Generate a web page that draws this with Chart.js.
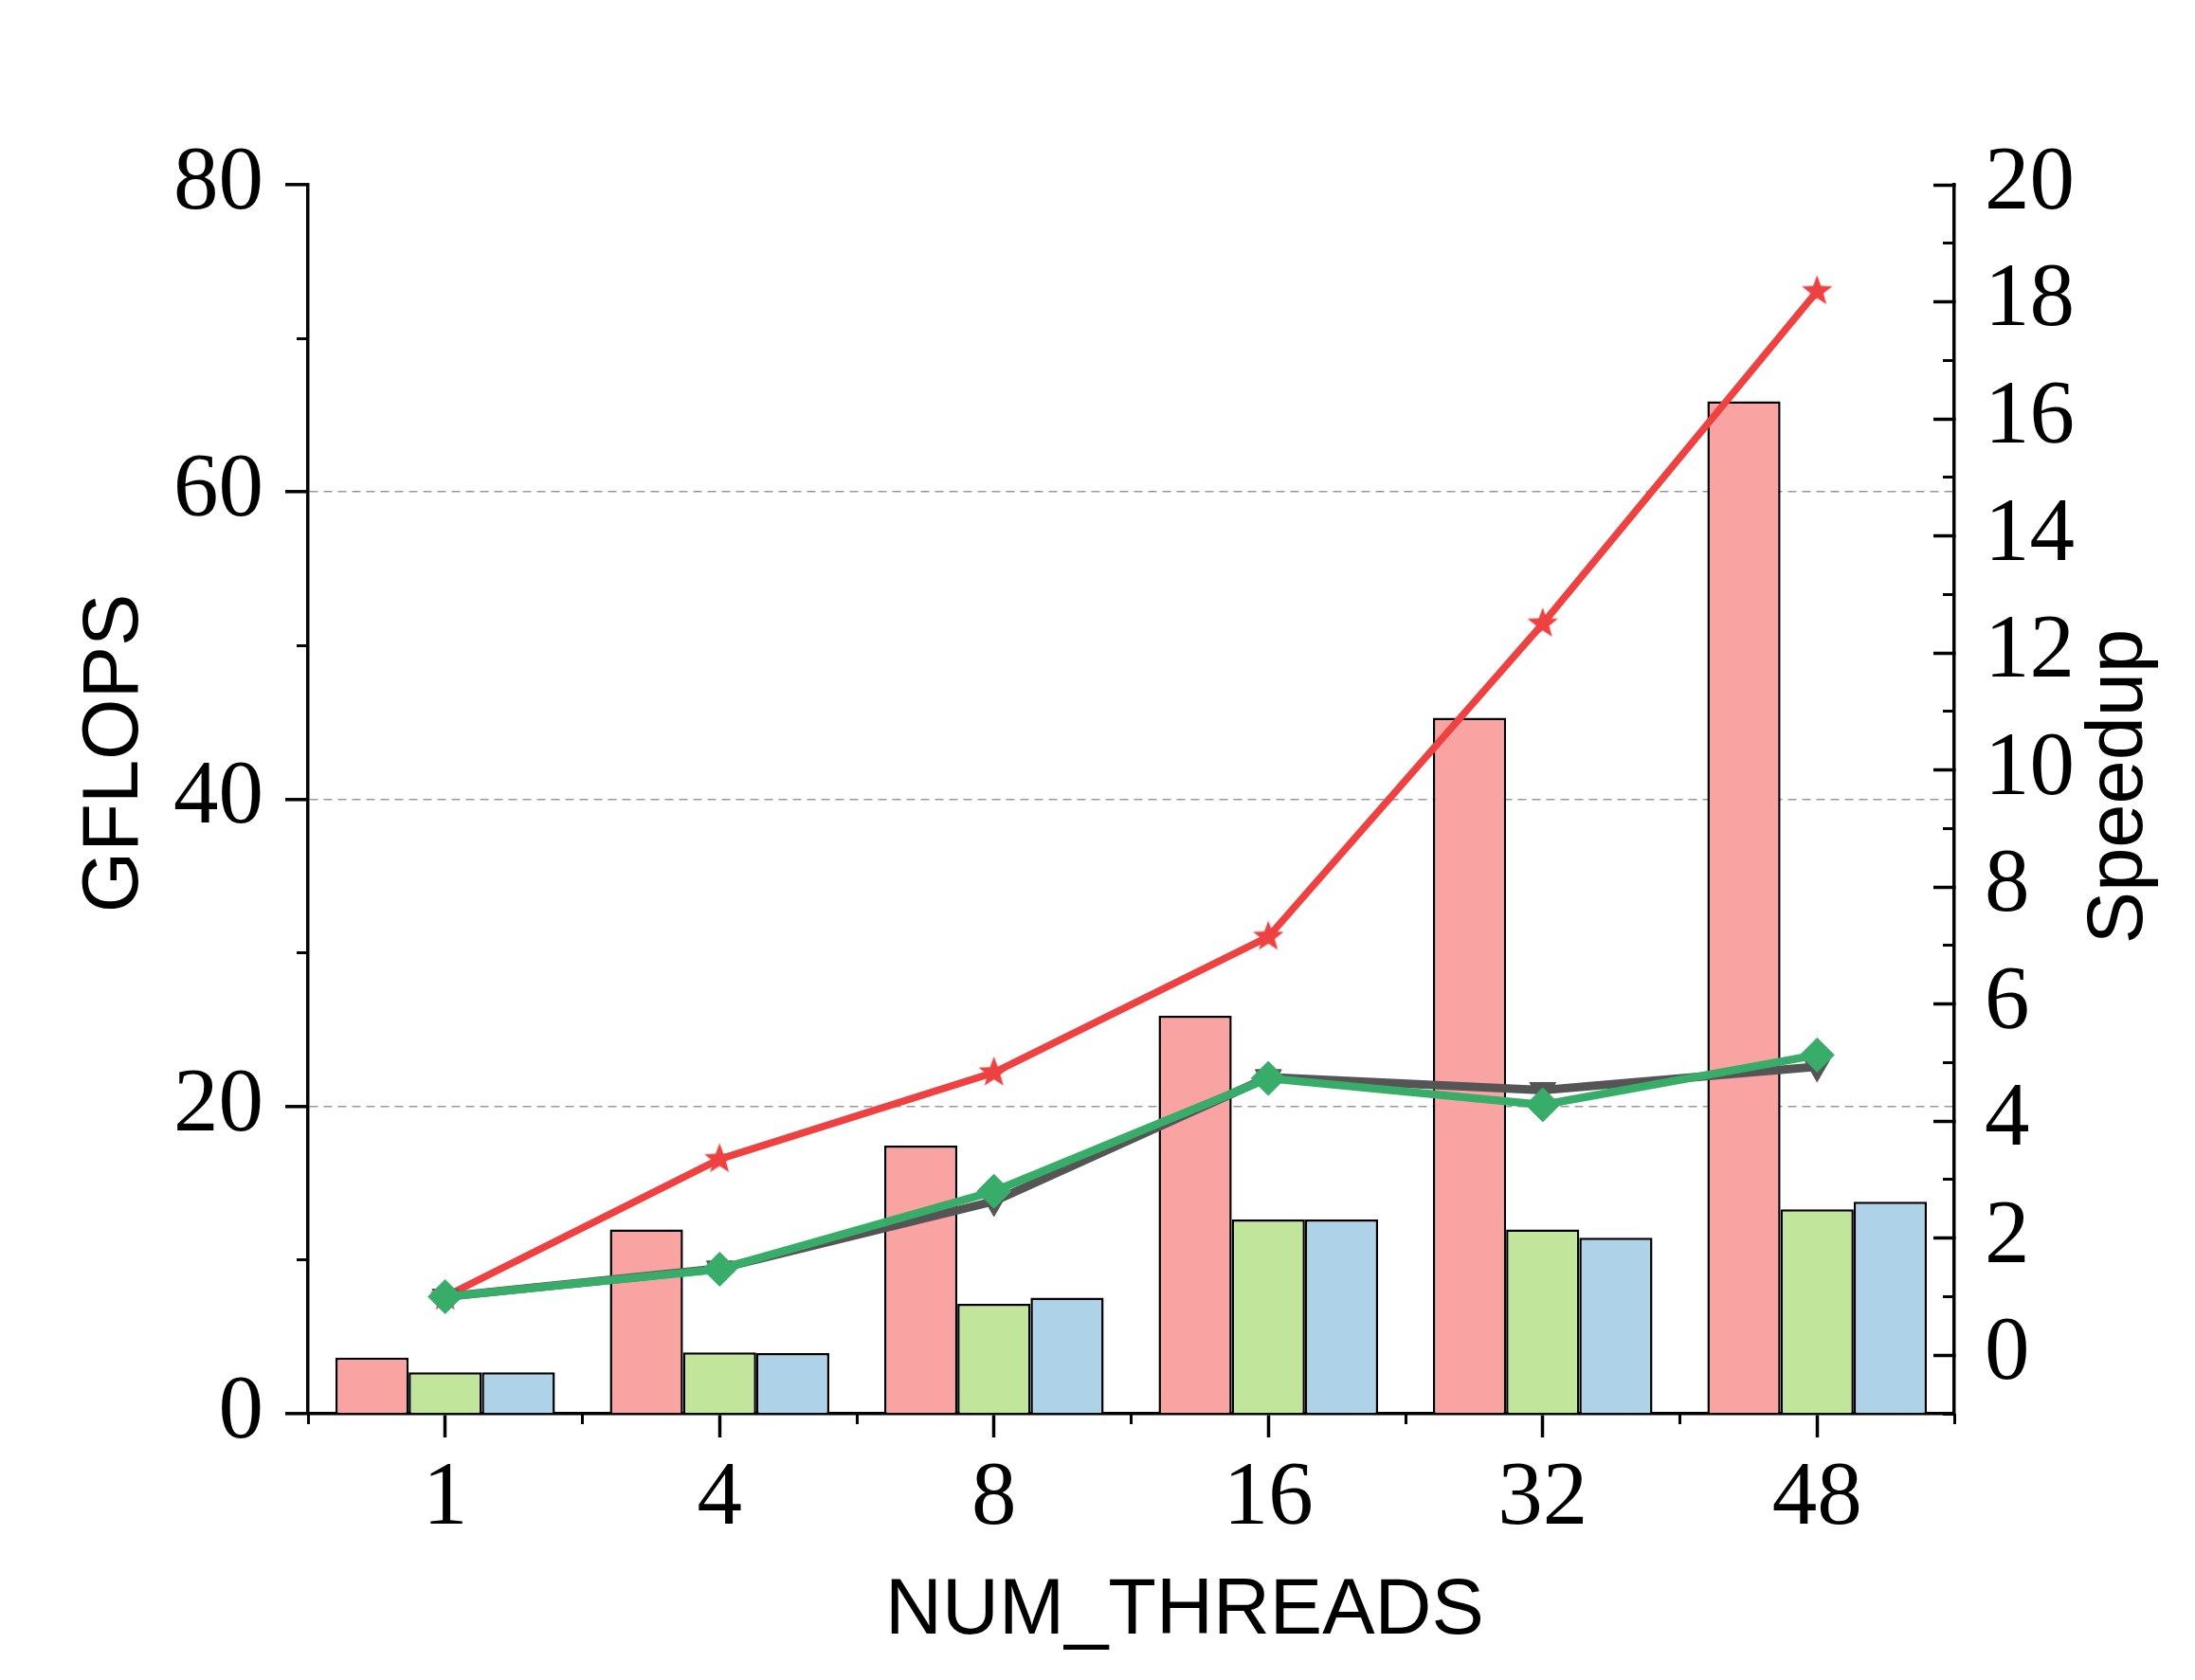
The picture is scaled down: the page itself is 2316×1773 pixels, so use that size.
<!DOCTYPE html>
<html>
<head>
<meta charset="utf-8">
<script src="https://cdn.jsdelivr.net/npm/chart.js@4/dist/chart.umd.min.js"></script>
<style>
  html, body { margin: 0; padding: 0; background: #ffffff; }
  #wrap { width: 2316px; height: 1773px; }
</style>
</head>
<body>
<div id="wrap"><canvas id="c" width="2316" height="1773"></canvas></div>
<script>
// ---------------- data ----------------
const threads = ['1', '4', '8', '16', '32', '48'];

// GFLOPS (left axis) – bars
const gflopsRed   = [3.65, 12.0, 17.45, 25.9, 45.3, 65.9];
const gflopsGreen = [2.7, 4.0, 7.15, 12.65, 12.0, 13.3];
const gflopsBlue  = [2.7, 3.95, 7.55, 12.65, 11.45, 13.8];

// Speedup (right axis) – lines
const speedupRed   = [1.0, 3.35, 4.83, 7.15, 12.5, 18.18];
const speedupGray  = [1.0, 1.48, 2.63, 4.75, 4.53, 4.93];
const speedupGreen = [1.0, 1.47, 2.8, 4.73, 4.28, 5.13];

// tick values
const gflopsTicks = [0, 20, 40, 60, 80];
const gflopsMinorTicks = [10, 30, 50, 70];
const gflopsGridValues = [20, 40, 60];
const speedupTicks = [0, 2, 4, 6, 8, 10, 12, 14, 16, 18, 20];
const speedupMinorTicks = [-1, 1, 3, 5, 7, 9, 11, 13, 15, 17, 19];

const xTitle = 'NUM_THREADS';
const yTitle = 'GFLOPS';
const y2Title = 'Speedup';

// ---------------- styles ----------------
const tickFont = { family: "'Liberation Serif', 'Times New Roman', serif", size: 95 };
const titleFont = "83px 'Liberation Sans', Arial, sans-serif";

function makeStar(r, color) {
  const size = Math.ceil(r * 2 + 2);
  const c = document.createElement('canvas');
  c.width = size; c.height = size;
  const g = c.getContext('2d');
  g.fillStyle = color;
  g.beginPath();
  const cx = size / 2, cy = size / 2, ri = r * 0.42;
  for (let i = 0; i < 10; i++) {
    const a = -Math.PI / 2 + i * Math.PI / 5;
    const rr = (i % 2) ? ri : r;
    g.lineTo(cx + rr * Math.cos(a), cy + rr * Math.sin(a));
  }
  g.closePath();
  g.fill();
  return c;
}
const starImg = makeStar(17, '#EE4141');

const axisTitlePlugin = {
  id: 'axisTitles',
  afterDraw(chart) {
    const ctx = chart.ctx;
    ctx.save();
    ctx.fillStyle = '#000000';
    ctx.font = titleFont;
    ctx.textAlign = 'center';
    ctx.textBaseline = 'alphabetic';
    ctx.fillText(xTitle, 1250, 1724);
    ctx.save();
    ctx.translate(145, 795);
    ctx.rotate(-Math.PI / 2);
    ctx.fillText(yTitle, 0, 0);
    ctx.restore();
    ctx.save();
    ctx.translate(2260, 830);
    ctx.rotate(-Math.PI / 2);
    ctx.fillText(y2Title, 0, 0);
    ctx.restore();
    ctx.restore();
  }
};

const ctx = document.getElementById('c').getContext('2d');
new Chart(ctx, {
  type: 'bar',
  data: {
    labels: threads,
    datasets: [
      {
        label: 'GFLOPS A', data: gflopsRed, xAxisID: 'x', yAxisID: 'y',
        backgroundColor: '#FAA3A3', borderColor: '#000000', borderWidth: 2.5, order: 10
      },
      {
        label: 'GFLOPS B', data: gflopsGreen, xAxisID: 'x', yAxisID: 'y',
        backgroundColor: '#C1E69B', borderColor: '#000000', borderWidth: 2.5, order: 10
      },
      {
        label: 'GFLOPS C', data: gflopsBlue, xAxisID: 'x', yAxisID: 'y',
        backgroundColor: '#AED2E7', borderColor: '#000000', borderWidth: 2.5, order: 10
      },
      {
        type: 'line', label: 'Speedup A', data: speedupRed, xAxisID: 'x', yAxisID: 'y2',
        borderColor: '#EE4141', backgroundColor: '#EE4141', borderWidth: 7.5, tension: 0,
        pointStyle: starImg, pointRadius: 17, order: 2
      },
      {
        type: 'line', label: 'Speedup B', data: speedupGray, xAxisID: 'x', yAxisID: 'y2',
        borderColor: '#555555', backgroundColor: '#555555', borderWidth: 9, tension: 0,
        pointStyle: 'triangle', rotation: 180, pointRadius: 16,
        pointBackgroundColor: '#555555', pointBorderColor: '#555555', pointBorderWidth: 1, order: 1
      },
      {
        type: 'line', label: 'Speedup C', data: speedupGreen, xAxisID: 'x', yAxisID: 'y2',
        borderColor: '#38AD6A', backgroundColor: '#38AD6A', borderWidth: 8.5, tension: 0,
        pointStyle: 'rectRot', pointRadius: 18,
        pointBackgroundColor: '#38AD6A', pointBorderColor: '#38AD6A', pointBorderWidth: 1, order: 0
      }
    ]
  },
  options: {
    responsive: false,
    animation: false,
    devicePixelRatio: 1,
    layout: { padding: { top: 195, left: 0, right: 0, bottom: 0 } },
    plugins: { legend: { display: false }, tooltip: { enabled: false }, title: { display: false } },
    datasets: { bar: { categoryPercentage: 0.8, barPercentage: 1.0 } },
    scales: {
      x: {
        type: 'category', position: 'bottom', weight: 1, offset: true,
        grid: { display: true, drawOnChartArea: false, drawTicks: true, offset: false,
                tickLength: 25, tickWidth: 3.5, tickColor: '#000000' },
        border: { display: true, color: '#000000', width: 3.5 },
        ticks: { font: tickFont, color: '#000000', padding: 9, autoSkip: false, maxRotation: 0, minRotation: 0 },
        afterFit: s => { s.height = 281; }
      },
      xMinor: {
        type: 'category', position: 'bottom', weight: 0, offset: true,
        grid: { display: true, drawOnChartArea: false, drawTicks: true, offset: true,
                tickLength: 11, tickWidth: 3, tickColor: '#000000' },
        border: { display: false },
        ticks: { display: false },
        afterFit: s => { s.height = 0; }
      },
      y: {
        type: 'linear', position: 'left', weight: 1, min: 0, max: 80,
        afterBuildTicks: s => { s.ticks = gflopsTicks.map(v => ({ value: v })); },
        grid: {
          display: true, drawOnChartArea: true, drawTicks: true,
          tickLength: 24, tickWidth: 3.5, tickColor: '#000000', lineWidth: 1.6,
          color: c => (c.tick && gflopsGridValues.includes(c.tick.value)) ? '#9A9A9A' : 'rgba(0,0,0,0)'
        },
        border: { display: true, color: '#000000', width: 3.5, dash: [9, 6] },
        ticks: { font: tickFont, color: '#000000', padding: 23, autoSkip: false },
        afterFit: s => { s.width = 325; }
      },
      yMinor: {
        type: 'linear', position: 'left', weight: 0, min: 0, max: 80,
        afterBuildTicks: s => { s.ticks = gflopsMinorTicks.map(v => ({ value: v })); },
        grid: { display: true, drawOnChartArea: false, drawTicks: true,
                tickLength: 12, tickWidth: 3, tickColor: '#000000' },
        border: { display: false },
        ticks: { display: false },
        afterFit: s => { s.width = 0; }
      },
      y2: {
        type: 'linear', position: 'right', weight: 1, min: -1, max: 20,
        afterBuildTicks: s => { s.ticks = speedupTicks.map(v => ({ value: v })); },
        grid: { display: true, drawOnChartArea: false, drawTicks: true,
                tickLength: -22, tickWidth: 3.5, tickColor: '#000000' },
        border: { display: true, color: '#000000', width: 3.5 },
        ticks: { font: tickFont, color: '#000000', padding: 54, autoSkip: false },
        afterFit: s => { s.width = 254; }
      },
      y2Minor: {
        type: 'linear', position: 'right', weight: 0, min: -1, max: 20,
        afterBuildTicks: s => { s.ticks = speedupMinorTicks.map(v => ({ value: v })); },
        grid: { display: true, drawOnChartArea: false, drawTicks: true,
                tickLength: -12, tickWidth: 3, tickColor: '#000000' },
        border: { display: false },
        ticks: { display: false },
        afterFit: s => { s.width = 0; }
      }
    }
  },
  plugins: [axisTitlePlugin]
});
</script>
</body>
</html>
